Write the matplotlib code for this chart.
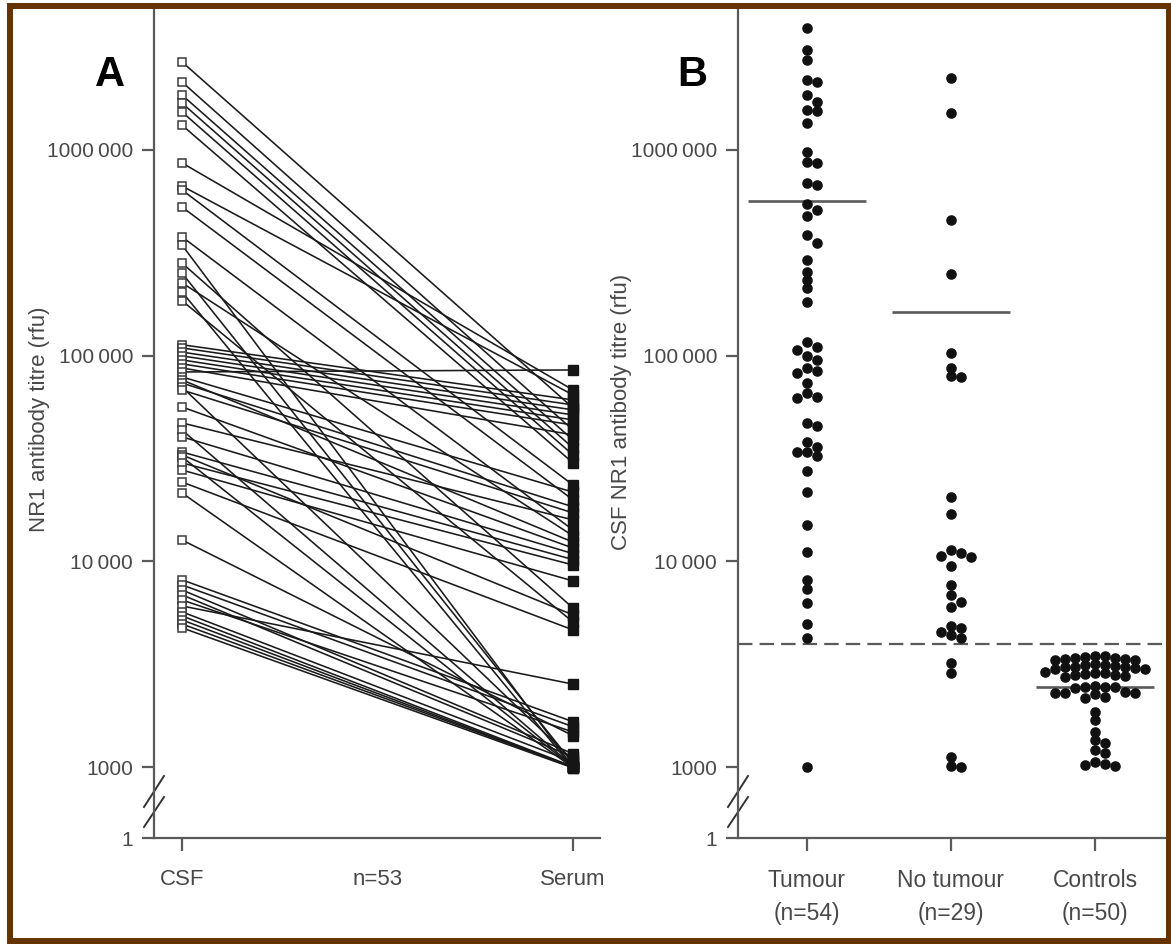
import numpy as np
import matplotlib
matplotlib.use('Agg')
import matplotlib.pyplot as plt
from matplotlib.lines import Line2D
from matplotlib.patches import Rectangle
from matplotlib.ticker import NullLocator

plt.rcParams['font.family'] = ['Liberation Sans', 'DejaVu Sans']

# Panel A: paired CSF / serum NR1 antibody titres (rfu), one pair per patient
csf_titre = [2680000, 2140000, 1850000, 1690000, 1530000, 1320000, 865000, 668000, 639000, 528000,
             378000, 345000, 282000, 252000, 226000, 204000, 185000, 113000, 109000, 104000,
             99700, 95300, 91200, 87100, 83300, 78800, 76200, 73600, 70400, 68100,
             56300, 47100, 43500, 40300, 34000, 32900, 32200, 30100, 27800, 24300,
             21500, 12700, 8130, 7680, 7260, 6870, 6490, 6070, 5680, 5430,
             5190, 4960, 4750]
serum_titre = [55700, 43500, 38900, 35600, 32900, 30100, 68100, 64400, 23500, 19900,
               14200, 1000, 5930, 1040, 13300, 990, 5070, 60900, 57600, 54500,
               51500, 48700, 46000, 41200, 85200, 21700, 12400, 18400, 1080, 17200,
               11600, 15900, 1010, 10900, 10200, 5490, 1000, 9600, 8030, 4640,
               995, 1420, 1660, 1570, 1160, 1120, 1480, 2530, 1060, 1005,
               1000, 998, 990]

# Panel B: CSF titres by group
tumour = [3920000, 3060000, 2740000, 2190000, 2140000, 1850000, 1710000, 1560000, 1550000, 1350000,
          978000, 874000, 865000, 692000, 676000, 546000, 511000, 477000, 386000, 353000,
          292000, 255000, 233000, 213000, 182000, 117000, 110000, 107000, 99700, 95300,
          87100, 84300, 82400, 73600, 65900, 63000, 62300, 47100, 45500, 38000,
          35900, 34000, 33900, 32500, 27500, 21700, 15000, 11100, 8130, 7350,
          6280, 4960, 4240, 1000]
no_tumour = [2240000, 1510000, 457000, 250000, 103000, 87100, 79600, 78800, 20600, 17000,
             11400, 11000, 10600, 10500, 9500, 7700, 6870, 6350, 6000, 4850,
             4750, 4540, 4390, 4240, 3210, 2870, 1120, 1010, 1000]
controls = [3480, 3450, 3420, 3400, 3380, 3360, 3340, 3320, 3300,
            3160, 3140, 3120, 3100, 3080, 3060, 3050, 3030, 3010, 3000,
            2890, 2870, 2850, 2830, 2810, 2790, 2770, 2750,
            2480, 2460, 2450, 2440, 2420,
            2320, 2300, 2290, 2280, 2260,
            2180, 2160,
            1854, 1695, 1482, 1355, 1310, 1211, 1170, 1060, 1040, 1020, 1010]
groups = [tumour, no_tumour, controls]
group_labels = ['Tumour\n(n=54)', 'No tumour\n(n=29)', 'Controls\n(n=50)']
group_means = [565000, 163000, 2450]
cutoff = 3960

ytick_values = [1000, 10000, 100000, 1000000]
ytick_labels = ['1000', '10\u2009000', '100\u2009000', '1000\u2009000']

AXIS_GREY = '#5a5a5a'
TEXT_GREY = '#484848'
W, H = 1171, 944
Y_BOTTOM = 10 ** 2.655
Y_TOP = 10 ** 6.69

fig = plt.figure(figsize=(W / 100, H / 100), dpi=100)


def px_axes(left, top, right, bottom):
    return fig.add_axes([left / W, 1 - bottom / H, (right - left) / W, (bottom - top) / H])


def style_axes(ax):
    ax.set_yscale('log')
    ax.set_ylim(Y_BOTTOM, Y_TOP)
    for s in ['top', 'right']:
        ax.spines[s].set_visible(False)
    for s in ['left', 'bottom']:
        ax.spines[s].set_color(AXIS_GREY)
        ax.spines[s].set_linewidth(1.6)
    ax.set_yticks([Y_BOTTOM] + ytick_values)
    ax.set_yticklabels(['1'] + ytick_labels)
    ax.yaxis.set_minor_locator(NullLocator())
    ax.tick_params(axis='both', length=9, width=1.6, color=AXIS_GREY,
                   labelcolor=TEXT_GREY, labelsize=15)
    ax.tick_params(axis='y', pad=6)
    ax.tick_params(axis='x', pad=13)
    # axis break marks on the y axis
    bb = ax.get_window_extent()
    dx = 10 / bb.width
    for y0, y1 in [(31, 62), (11, 41)]:
        ax.add_line(Line2D([-dx, dx], [y0 / bb.height, y1 / bb.height], transform=ax.transAxes,
                           color='#333333', lw=1.4, clip_on=False))


def swarm_offsets(ax, values, step_px=10.0, min_gap_px=8.0):
    ys = ax.transData.transform(np.column_stack([np.zeros(len(values)), values]))[:, 1]
    slots = np.zeros(len(values))
    taken = {}
    candidates = [0] + [s for k in range(1, 12) for s in (k, -k)]
    for i in np.argsort(-ys):
        for s in candidates:
            col = taken.setdefault(s, [])
            if all(abs(ys[i] - y) >= min_gap_px for y in col):
                col.append(ys[i])
                slots[i] = s
                break
    px_per_unit = ax.transData.transform([(1, 1)])[0, 0] - ax.transData.transform([(0, 1)])[0, 0]
    return slots * step_px / px_per_unit


# ---- Panel A ----
axA = px_axes(154, 8, 600, 838)
axA.set_xlim(-0.0716, 1.069)
style_axes(axA)
for c, s in zip(csf_titre, serum_titre):
    axA.plot([0, 1], [c, s], color='#1a1a1a', lw=1.15, zorder=2)
axA.plot(np.zeros(len(csf_titre)), csf_titre, 's', ms=6.3, mfc='white', mec='#3a3a3a',
         mew=1.1, zorder=3, clip_on=False)
axA.plot(np.ones(len(serum_titre)), serum_titre, 's', ms=7.0, color='#151515', zorder=3)
axA.set_xticks([0, 0.5, 1])
axA.set_xticklabels(['CSF', 'n=53', 'Serum'], fontsize=16)
axA.xaxis.get_major_ticks()[1].tick1line.set_visible(False)
axA.set_ylabel('NR1 antibody titre (rfu)', fontsize=16, color=TEXT_GREY)
axA.yaxis.set_label_coords(-0.233, 0.504)
axA.text(-0.099, 0.919, 'A', transform=axA.transAxes, fontsize=30, fontweight='bold',
         ha='center', va='center', color='black')

# ---- Panel B ----
axB = px_axes(738, 8, 1168, 838)
axB.set_xlim(-0.479, 2.507)
style_axes(axB)
for pos, vals in enumerate(groups):
    offs = swarm_offsets(axB, vals)
    axB.plot(pos + offs, vals, 'o', ms=6.6, color='#111111', zorder=3)
for pos, m in enumerate(group_means):
    axB.hlines(m, pos - 0.41, pos + 0.41, color=AXIS_GREY, lw=1.9, zorder=2)
axB.axhline(cutoff, color=AXIS_GREY, lw=1.6, ls=(0, (6.5, 3.2)), zorder=1)
axB.set_xticks(range(len(groups)))
axB.set_xticklabels(group_labels, linespacing=1.6, fontsize=16.5)
axB.set_ylabel('CSF NR1 antibody titre (rfu)', fontsize=16, color=TEXT_GREY)
axB.yaxis.set_label_coords(-0.247, 0.513)
axB.text(-0.107, 0.919, 'B', transform=axB.transAxes, fontsize=30, fontweight='bold',
         ha='center', va='center', color='black')

# brown frame round the whole figure
fig.add_artist(Rectangle((10 / W, 3 / H), 1159 / W, 935 / H, transform=fig.transFigure,
                         fill=False, edgecolor='#663300', lw=4.3, zorder=10))

fig.savefig('out.png', dpi=100)
